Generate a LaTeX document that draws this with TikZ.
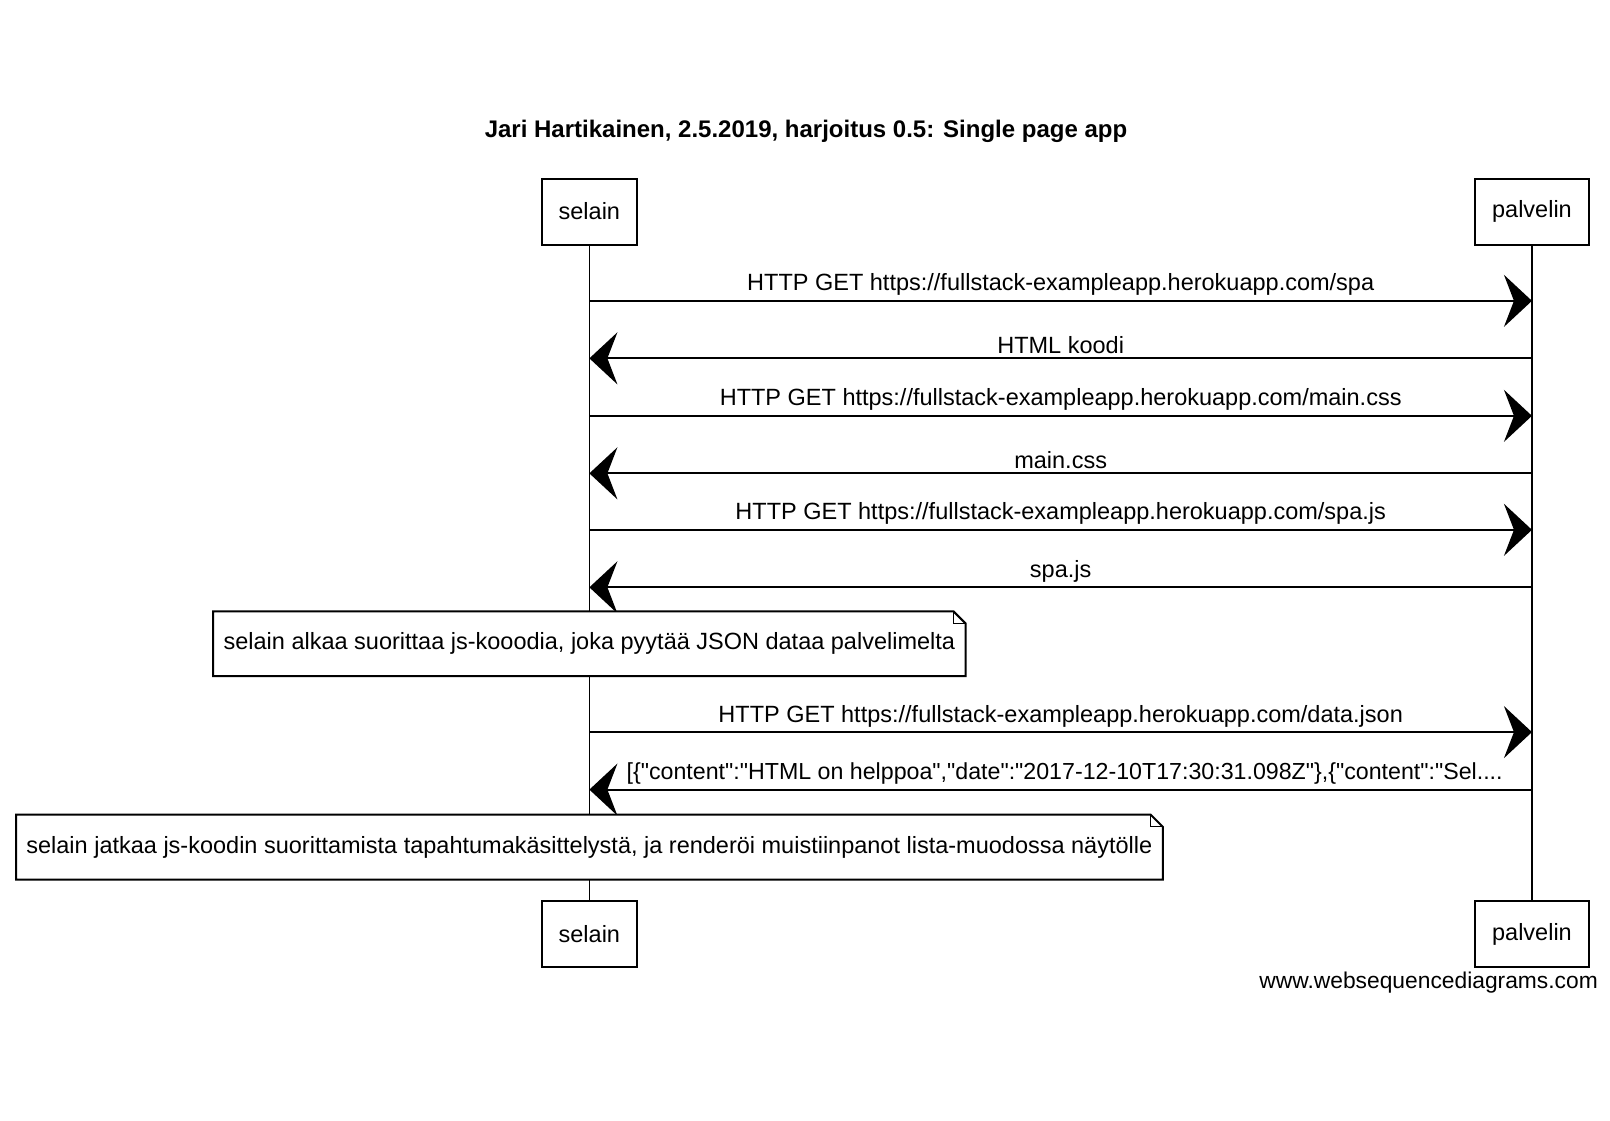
\documentclass[tikz,border=0pt]{standalone}
\usepackage{fontspec}
\setmainfont{Liberation Sans}[Ligatures=TeXOff]
\usepackage{tikz}
\usetikzlibrary{arrows.meta}
\tikzstyle{actor} = [rectangle, draw, line width=1pt, fill=white, inner xsep=8.5pt, minimum height=33pt, font=\fontsize{11.75}{14}\selectfont]
\tikzstyle{lifeline} = [draw, line width=0.6pt]
\tikzstyle{msg} = [draw, line width=1pt, -{Stealth[length=14pt, width=26pt, inset=5pt]}]
\tikzstyle{msgtext} = [above, inner sep=2pt, font=\fontsize{11.75}{14}\selectfont]
\tikzstyle{note} = [rectangle, fill=white, inner xsep=5pt, minimum height=32pt, font=\fontsize{11.75}{14}\selectfont]
\tikzstyle{notebox} = [draw, line width=1pt]

\begin{document}
\begin{tikzpicture}[x=0.5134pt, y=-0.5134pt]
\useasboundingbox (0, 0) rectangle (1568, 1090.8);

\node [font=\fontsize{12}{14}\selectfont\bfseries] at (785, 128) (title) {Jari Hartikainen, 2.5.2019, harjoitus 0.5: Single page app};

% participants

\node [actor] at (574, 206) (selainTop) {selain};
\node [actor] at (1492, 206) (palvelinTop) {palvelin};
\node [actor] at (574, 910) (selainBot) {selain};
\node [actor] at (1492, 910) (palvelinBot) {palvelin};
\path [lifeline] (selainTop.south) to (selainBot.north);
\path [lifeline] (palvelinTop.south) to (palvelinBot.north);

% messages

\coordinate (s1) at (574, 293); \coordinate (p1) at (1492, 293);
\coordinate (s2) at (574, 349); \coordinate (p2) at (1492, 349);
\coordinate (s3) at (574, 405); \coordinate (p3) at (1492, 405);
\coordinate (s4) at (574, 461); \coordinate (p4) at (1492, 461);
\coordinate (s5) at (574, 516); \coordinate (p5) at (1492, 516);
\coordinate (s6) at (574, 572); \coordinate (p6) at (1492, 572);
\coordinate (s7) at (574, 713); \coordinate (p7) at (1492, 713);
\coordinate (s8) at (574, 769); \coordinate (p8) at (1492, 769);

\path [msg] (s1) to node [msgtext] {HTTP GET https://fullstack-exampleapp.herokuapp.com/spa} (p1);
\path [msg] (p2) to node [msgtext] {HTML koodi} (s2);
\path [msg] (s3) to node [msgtext] {HTTP GET https://fullstack-exampleapp.herokuapp.com/main.css} (p3);
\path [msg] (p4) to node [msgtext] {main.css} (s4);
\path [msg] (s5) to node [msgtext] {HTTP GET https://fullstack-exampleapp.herokuapp.com/spa.js} (p5);
\path [msg] (p6) to node [msgtext] {spa.js} (s6);

% notes

\node [note] at (574, 627) (run) {selain alkaa suorittaa js-kooodia, joka pyytää JSON dataa palvelimelta};
\draw [notebox] (run.south west) -- (run.north west) -- ([xshift=-6pt]run.north east) -- ([yshift=-6pt]run.north east) -- (run.south east) -- cycle;
\draw [line width=0.6pt] ([xshift=-6pt]run.north east) -- ([xshift=-6pt, yshift=-6pt]run.north east) -- ([yshift=-6pt]run.north east);

\path [msg] (s7) to node [msgtext] {HTTP GET https://fullstack-exampleapp.herokuapp.com/data.json} (p7);
\path [msg] (p8) to node [msgtext, font=\fontsize{11.6}{14}\selectfont, xshift=2pt] {[\{"content":"HTML on helppoa","date":"2017-12-10T17:30:31.098Z"\},\{"content":"Sel....} (s8);

\node [note] at (574, 825) (render) {selain jatkaa js-koodin suorittamista tapahtumakäsittelystä, ja renderöi muistiinpanot lista-muodossa näytölle};
\draw [notebox] (render.south west) -- (render.north west) -- ([xshift=-6pt]render.north east) -- ([yshift=-6pt]render.north east) -- (render.south east) -- cycle;
\draw [line width=0.6pt] ([xshift=-6pt]render.north east) -- ([xshift=-6pt, yshift=-6pt]render.north east) -- ([yshift=-6pt]render.north east);

\node [anchor=east, font=\fontsize{11.4}{13}\selectfont] at (1563, 957) (credit) {www.websequencediagrams.com};

\end{tikzpicture}
\end{document}
